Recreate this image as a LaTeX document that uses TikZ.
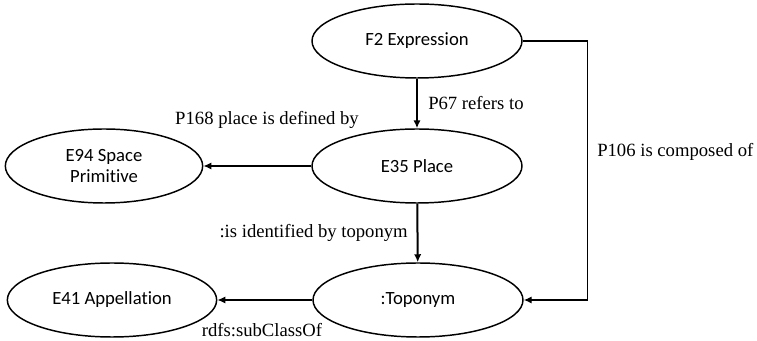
\documentclass[tikz,border=0pt]{standalone}
\usepackage{fontspec}
\setmainfont{Liberation Serif}
\newfontfamily\classfont[Ligatures=NoCommon]{Carlito}
\usetikzlibrary{shapes.geometric,arrows.meta}

\tikzset{
  cls/.style={ellipse, draw, line width=1.1pt, inner sep=0pt, minimum width=157.5pt,
    minimum height=55.5pt, align=center, font=\classfont\fontsize{14}{16}\selectfont},
  prop/.style={font=\fontsize{14}{16}\selectfont, inner sep=0pt},
  rel/.style={line width=1.5pt, -{Latex[length=6pt,width=5.5pt]}},
  thinrel/.style={line width=1.1pt, -{Latex[length=6pt,width=5.5pt]}}
}

\begin{document}
\begin{tikzpicture}[x=0.75pt, y=-0.75pt]
\useasboundingbox (0,0) rectangle (757,341);

\node[cls] (expr) at (417, 41) {F2 Expression};
\node[cls] (place) at (417, 166) {E35 Place};
\node[cls, minimum width=148pt] (spaceprim) at (104, 166) {E94 Space\\Primitive};
\node[cls] (topo) at (418, 300) {:Toponym};
\node[cls, minimum width=157pt] (appel) at (112, 300) {E41 Appellation};

\draw[rel] (expr) -- (place);
\draw[rel] (place) -- (spaceprim);
\draw[rel] (place) -- (topo);
\draw[rel] (topo) -- (appel);
\draw[thinrel] (expr.east) -- ++(65,0) |- (topo.east);

\node[prop, anchor=west] (l67) at (428, 103) {P67 refers to};
\node[prop] (l168) at (267, 120) {P168 place is defined by};
\node[prop, anchor=east] (lident) at (408, 233) {:is identified by toponym};
\node[prop, anchor=west] (l106) at (597, 152) {P106 is composed of};
\node[prop] (lsub) at (262, 330) {rdfs:subClassOf};
\end{tikzpicture}
\end{document}
